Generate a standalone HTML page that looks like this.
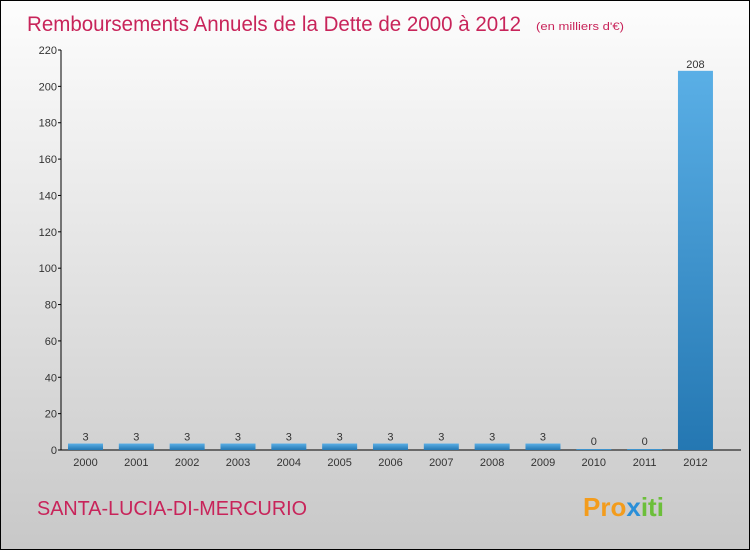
<!DOCTYPE html>
<html><head><meta charset="utf-8"><style>
body{margin:0}
#c{position:relative;width:748px;height:548px;border:1px solid #000;background:linear-gradient(#fdfdfd,#c8c8c8);font-family:"Liberation Sans",sans-serif;overflow:hidden}
</style></head><body>
<div id="c">
<svg id="s" width="748" height="548" xmlns="http://www.w3.org/2000/svg">
<defs><linearGradient id="g" x1="0" y1="0" x2="0" y2="1"><stop offset="0" stop-color="#5aafe6"/><stop offset="1" stop-color="#2477b2"/></linearGradient></defs>
<text x="26" y="30" font-size="21" fill="#c8245a" textLength="494" lengthAdjust="spacingAndGlyphs">Remboursements Annuels de la Dette de 2000 à 2012</text>
<text x="535" y="29" font-size="11" fill="#c8245a" textLength="88" lengthAdjust="spacingAndGlyphs">(en milliers d'€)</text>
<text x="36" y="514" font-size="20" fill="#c8245a" textLength="270" lengthAdjust="spacingAndGlyphs">SANTA-LUCIA-DI-MERCURIO</text>
<text x="582" y="515" font-size="26" font-weight="bold" fill="#f39c1c">Pro<tspan fill="#2a8fd8">x</tspan><tspan fill="#6cbf3a">iti</tspan></text>
<g id="axes"></g><g id="bars"></g>
</svg></div>
<script>
const years=["2000","2001","2002","2003","2004","2005","2006","2007","2008","2009","2010","2011","2012"];
const values=[3,3,3,3,3,3,3,3,3,3,0,0,208];
const ticks=[0,20,40,60,80,100,120,140,160,180,200,220];
const NS="http://www.w3.org/2000/svg";
const y0=449,ymax=49,vmax=220,ax=60;
const Y=v=>y0-(y0-ymax)*v/vmax;
const X=i=>84.5+i*50.83;
function mk(t,a,p){const e=document.createElementNS(NS,t);for(const k in a)e.setAttribute(k,a[k]);p.appendChild(e);return e;}
const A=document.getElementById('axes'),B=document.getElementById('bars');
const yl=mk('line',{x1:ax,y1:ymax,x2:ax,y2:y0,stroke:'#000'},A);


const xl=mk('line',{x1:ax,y1:y0,x2:740,y2:y0,stroke:'#000'},A);


ticks.forEach(t=>{
 mk('line',{x1:ax-3,y1:Y(t),x2:ax,y2:Y(t),stroke:'#000'},A);
 const e=mk('text',{x:ax-4,y:Y(t)+4,'font-size':11,fill:'#333','text-anchor':'end'},A);
 e.textContent=t;
 
 
});
years.forEach((yr,i)=>{
 const v=values[i],x=X(i);
 const h=Math.max(y0-Y(v),1);
 const r=mk('rect',{x:x-17.5,y:y0-h-(v>0?1:0),width:35,height:h+(v>0?1:0),fill:'url(#g)'},B);
 
 
 const l=mk('text',{x:x,y:y0-h-4,'font-size':11,fill:'#333','text-anchor':'middle'},B);
 l.textContent=v;
 
 
 const xt=mk('text',{x:x,y:465,'font-size':11,fill:'#333','text-anchor':'middle'},B);
 xt.textContent=yr;
 
 
});
</script>
</body></html>
